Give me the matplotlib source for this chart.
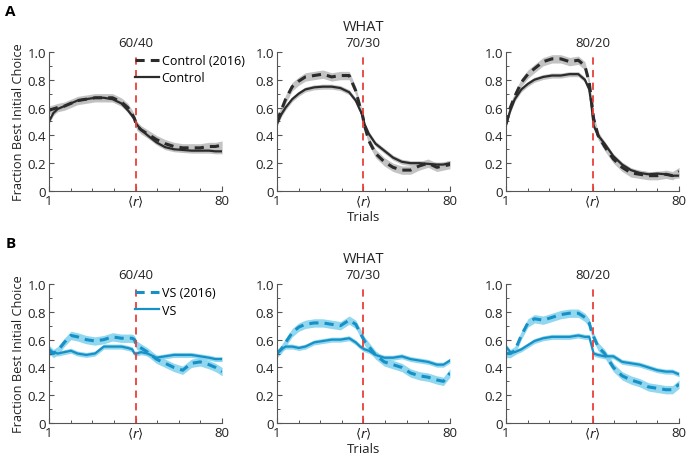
import matplotlib.pyplot as plt
import numpy as np

plt.rcParams['font.family'] = ['Open Sans', 'DejaVu Sans']

# trial grid where curve values were read
trials = [1, 3, 5, 8, 11, 14, 18, 22, 26, 30, 34, 37, 39, 40, 41, 43, 46, 50, 54, 58, 62, 66, 70, 74, 77, 80]
r_pos = 40.5
ratios = ['60/40', '70/30', '80/20']

# Panel A: Control
ctrl = [
    [0.50, 0.56, 0.59, 0.61, 0.63, 0.65, 0.66, 0.67, 0.67, 0.66, 0.63, 0.58, 0.54, 0.52, 0.48, 0.44, 0.40, 0.35, 0.315, 0.30, 0.295, 0.29, 0.29, 0.29, 0.285, 0.285],
    [0.48, 0.55, 0.60, 0.66, 0.70, 0.73, 0.745, 0.75, 0.75, 0.74, 0.71, 0.65, 0.58, 0.55, 0.48, 0.41, 0.34, 0.29, 0.24, 0.21, 0.20, 0.20, 0.195, 0.19, 0.19, 0.20],
    [0.48, 0.58, 0.66, 0.73, 0.77, 0.80, 0.82, 0.83, 0.83, 0.84, 0.84, 0.80, 0.73, 0.62, 0.47, 0.40, 0.34, 0.25, 0.19, 0.15, 0.13, 0.12, 0.125, 0.12, 0.11, 0.11],
]
ctrl_2016 = [
    [0.58, 0.59, 0.60, 0.61, 0.63, 0.65, 0.66, 0.67, 0.67, 0.67, 0.64, 0.60, 0.55, 0.52, 0.47, 0.44, 0.41, 0.37, 0.34, 0.32, 0.31, 0.31, 0.31, 0.32, 0.32, 0.33],
    [0.50, 0.58, 0.66, 0.75, 0.79, 0.82, 0.83, 0.84, 0.82, 0.83, 0.83, 0.72, 0.60, 0.55, 0.47, 0.36, 0.27, 0.21, 0.17, 0.15, 0.15, 0.18, 0.20, 0.17, 0.18, 0.19],
    [0.48, 0.60, 0.68, 0.78, 0.84, 0.88, 0.93, 0.95, 0.95, 0.93, 0.94, 0.90, 0.78, 0.65, 0.52, 0.40, 0.32, 0.23, 0.17, 0.13, 0.12, 0.11, 0.11, 0.12, 0.11, 0.14],
]
# Panel B: VS
vs = [
    [0.50, 0.51, 0.50, 0.51, 0.52, 0.50, 0.49, 0.50, 0.55, 0.55, 0.55, 0.54, 0.53, 0.50, 0.50, 0.51, 0.50, 0.47, 0.48, 0.49, 0.49, 0.49, 0.48, 0.47, 0.46, 0.46],
    [0.50, 0.53, 0.55, 0.55, 0.54, 0.55, 0.58, 0.59, 0.60, 0.60, 0.61, 0.58, 0.55, 0.54, 0.53, 0.52, 0.49, 0.47, 0.47, 0.48, 0.46, 0.45, 0.44, 0.42, 0.42, 0.45],
    [0.55, 0.51, 0.51, 0.53, 0.56, 0.59, 0.61, 0.62, 0.62, 0.62, 0.63, 0.62, 0.62, 0.56, 0.50, 0.49, 0.48, 0.48, 0.44, 0.43, 0.42, 0.40, 0.38, 0.37, 0.37, 0.35],
]
vs_2016 = [
    [0.53, 0.50, 0.52, 0.58, 0.63, 0.62, 0.60, 0.59, 0.60, 0.62, 0.61, 0.61, 0.61, 0.60, 0.56, 0.54, 0.51, 0.46, 0.43, 0.40, 0.38, 0.43, 0.44, 0.42, 0.40, 0.37],
    [0.50, 0.53, 0.58, 0.65, 0.69, 0.71, 0.72, 0.72, 0.71, 0.70, 0.74, 0.71, 0.65, 0.62, 0.59, 0.55, 0.49, 0.44, 0.42, 0.40, 0.36, 0.34, 0.33, 0.31, 0.30, 0.36],
    [0.50, 0.50, 0.52, 0.63, 0.72, 0.75, 0.74, 0.76, 0.78, 0.79, 0.79, 0.76, 0.72, 0.66, 0.62, 0.55, 0.50, 0.40, 0.34, 0.31, 0.29, 0.26, 0.25, 0.24, 0.24, 0.28],
]
sem_new = 0.018
sem_old = 0.03

gray_line = '#2b2b2b'
gray_band = '#bdbdbd'
blue_line = '#1790c6'
blue_band = '#84d3ee'
red = '#e8403a'

fig = plt.figure(figsize=(6.87, 4.56), dpi=100)

lefts = [0.0713, 0.403, 0.7365]
bottoms = [0.579, 0.070]
w, h = 0.252, 0.305

rows = [
    (ctrl, ctrl_2016, gray_line, gray_band, 'Control (2016)', 'Control', 'A'),
    (vs, vs_2016, blue_line, blue_band, 'VS (2016)', 'VS', 'B'),
]

for ri, (new, old, lc, bc, lab_old, lab_new, letter) in enumerate(rows):
    for ci in range(3):
        ax = fig.add_axes([lefts[ci], bottoms[ri], w, h])
        x = np.array(trials)
        yo = np.array(old[ci])
        yn = np.array(new[ci])
        ax.fill_between(x, yo - sem_old, yo + sem_old, color=bc, lw=0, alpha=0.9)
        ax.fill_between(x, yn - sem_new, yn + sem_new, color=bc, lw=0, alpha=0.9)
        ax.plot(x, yo, color=lc, lw=2.2, dashes=(3, 2), label=lab_old)
        ax.plot(x, yn, color=lc, lw=1.6, label=lab_new)
        ax.axvline(r_pos, color=red, lw=1.3, dashes=(4, 3), clip_on=False)

        ax.set_xlim(1, 80)
        ax.set_ylim(0, 1.0)
        ax.set_xticks([1, r_pos, 80])
        ax.set_xticklabels(['1', r'$\langle r\rangle$', '80'])
        ax.set_xticks(np.linspace(1, 80, 9), minor=True)
        ax.set_yticks([0, 0.2, 0.4, 0.6, 0.8, 1.0])
        ax.set_yticklabels(['0', '0.2', '0.4', '0.6', '0.8', '1.0'])
        ax.set_yticks(np.arange(0, 1.01, 0.1), minor=True)
        ax.tick_params(direction='in', length=3.5, width=0.8, colors='#555555',
                       labelcolor='#222222', labelsize=9.5, pad=2)
        ax.tick_params(which='minor', direction='in', length=2, width=0.7, colors='#555555')
        for s in ['top', 'right']:
            ax.spines[s].set_visible(False)
        for s in ['left', 'bottom']:
            ax.spines[s].set_color('#555555')
            ax.spines[s].set_linewidth(0.8)

        ax.text(r_pos, 1.02, ratios[ci], ha='center', va='bottom', fontsize=9.5,
                color='#222222', transform=ax.get_xaxis_transform())
        if ci == 0:
            ax.set_ylabel('Fraction Best Initial Choice', fontsize=9.2, color='#222222', labelpad=2)
            ax.legend(loc='upper left', bbox_to_anchor=(0.47, 1.02), frameon=False,
                      fontsize=9, handlelength=1.9, handletextpad=0.2,
                      labelspacing=0.35, borderaxespad=0)
        if ci == 1:
            ax.text(0.5, 1.13, 'WHAT', ha='center', va='bottom', fontsize=10.5,
                    color='#222222', transform=ax.transAxes)
            ax.set_xlabel('Trials', fontsize=9.5, color='#222222', labelpad=0.5)

    fig.text(0.008, bottoms[ri] + h + 0.075, letter, fontsize=11, fontweight='bold',
             ha='left', va='bottom')

fig.savefig('out.png', dpi=100)
